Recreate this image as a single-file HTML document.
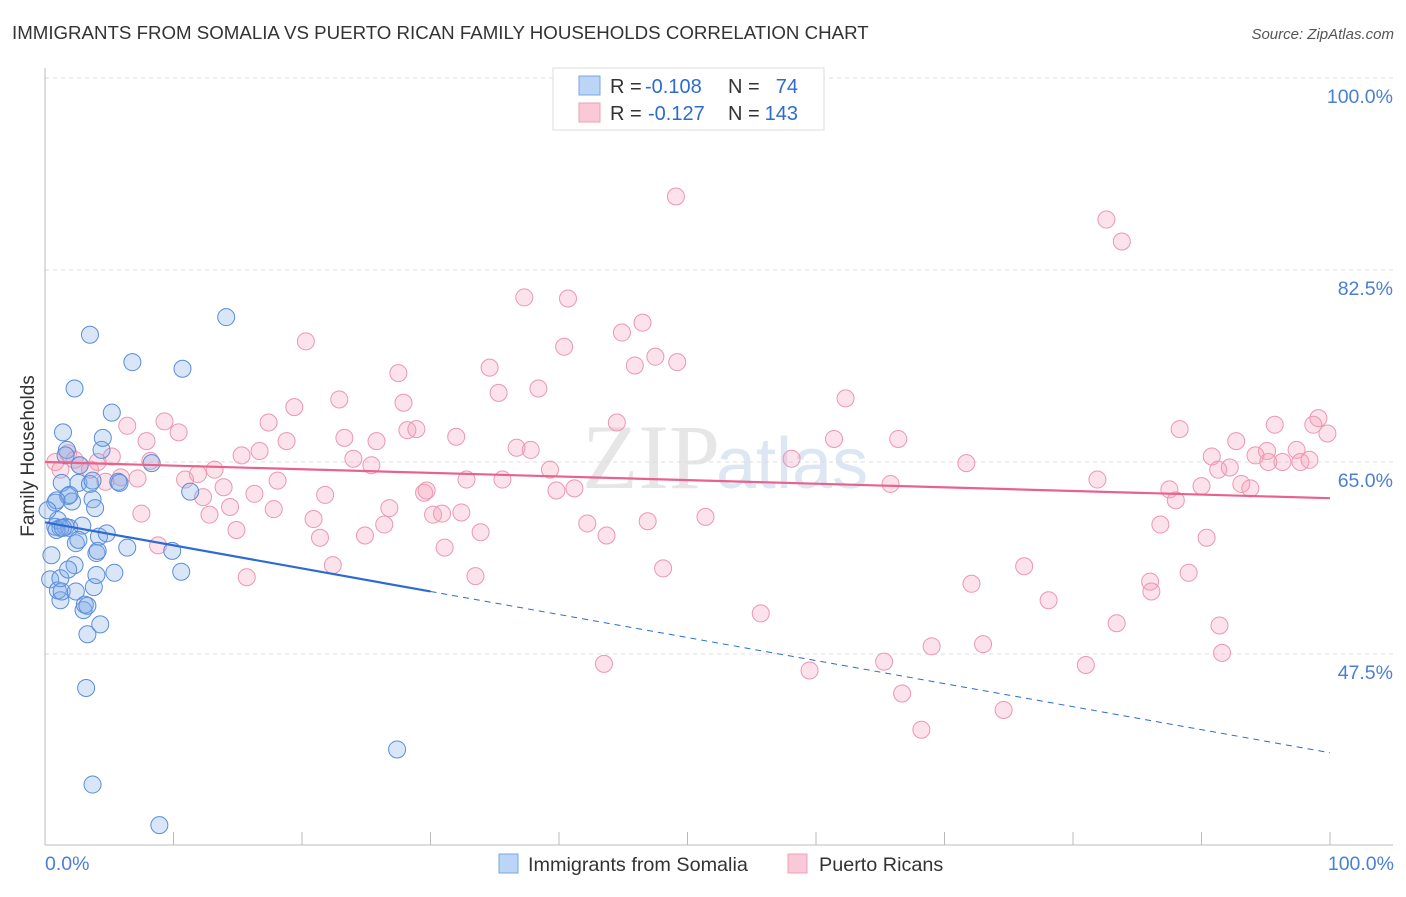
<!DOCTYPE html>
<html><head><meta charset="utf-8"><style>
body{margin:0;background:#fff;font-family:"Liberation Sans",sans-serif;}
</style></head><body>
<svg width="1406" height="892" viewBox="0 0 1406 892" xmlns="http://www.w3.org/2000/svg" font-family="Liberation Sans, sans-serif">
<text x="12" y="39" font-size="18.7" fill="#333">IMMIGRANTS FROM SOMALIA VS PUERTO RICAN FAMILY HOUSEHOLDS CORRELATION CHART</text>
<text x="1394" y="39" font-size="15" fill="#555" font-style="italic" text-anchor="end">Source: ZipAtlas.com</text>
<text x="720" y="488" font-size="92" fill="#e6e6e6" font-family="Liberation Serif, serif" text-anchor="end">ZIP</text>
<text x="716" y="488" font-size="72" fill="#dde6f3">atlas</text>
<g id="grid"></g>
<g id="axes"></g>
<g id="pts"></g>
<g id="trend"></g>
<text x="34" y="456" font-size="19" fill="#333" text-anchor="middle" transform="rotate(-90 34 456)">Family Households</text>
<text x="45" y="870" font-size="19.5" fill="#4a7fd6">0.0%</text>
<text x="1394" y="870" font-size="19.5" fill="#4a7fd6" text-anchor="end">100.0%</text>
<g>
<rect x="553" y="68" width="271" height="62" fill="#fff" stroke="#ddd"/>
<rect x="579" y="76" width="21" height="19" fill="#bcd4f5" stroke="#7aa6e6"/>
<rect x="579" y="103" width="21" height="19" fill="#f9c9d7" stroke="#f0a0b8"/>
<text x="610" y="93" font-size="20" fill="#333">R =</text>
<text x="645" y="93" font-size="20" fill="#2d6bd1">-0.108</text>
<text x="728" y="93" font-size="20" fill="#333">N =</text>
<text x="798" y="93" font-size="20" fill="#2d6bd1" text-anchor="end">74</text>
<text x="610" y="120" font-size="20" fill="#333">R =</text>
<text x="648" y="120" font-size="20" fill="#2d6bd1">-0.127</text>
<text x="728" y="120" font-size="20" fill="#333">N =</text>
<text x="798" y="120" font-size="20" fill="#2d6bd1" text-anchor="end">143</text>
</g>
<g>
<rect x="499" y="854" width="19" height="19" fill="#bcd4f5" stroke="#7aa6e6"/>
<text x="528" y="871" font-size="19.8" fill="#333">Immigrants from Somalia</text>
<rect x="788" y="854" width="19" height="19" fill="#f9c9d7" stroke="#f0a0b8"/>
<text x="819" y="871" font-size="19.8" fill="#333">Puerto Ricans</text>
</g>
</svg>
<script>
const yTicks=[47.5,65.0,82.5,100.0];
const yTickLabels=["47.5%","65.0%","82.5%","100.0%"];
const xTicks=[0,10,20,30,40,50,60,70,80,90,100];
const blueX=[0.4,0.5,0.8,0.8,1.0,1.2,1.0,1.3,1.2,1.3,1.4,1.6,1.7,1.8,1.9,2.1,2.3,2.3,2.4,2.4,2.6,2.7,2.9,3.0,3.1,3.2,3.3,3.5,3.5,3.7,3.7,3.8,3.9,4.0,4.0,4.1,4.2,4.3,4.4,4.5,4.8,5.2,5.4,5.7,6.4,6.8,8.3,8.9,9.9,10.6,10.7,11.3,14.1,27.4,5.8,1.6,1.2,2.6,3.3,1.9,0.9,1.4,1.8,3.7,0.9,0.2];
const blueY=[54.3,56.5,59.1,61.3,59.7,52.4,53.3,53.2,54.4,63.1,67.7,59.1,66.1,61.9,59.0,61.4,55.6,71.7,57.6,53.2,63.1,64.7,59.2,51.5,52.0,44.4,49.3,76.6,63.0,61.6,35.6,53.6,60.8,54.7,56.7,56.9,58.2,50.2,66.1,67.2,58.5,69.5,54.9,63.2,57.2,74.1,64.9,31.9,56.9,55.0,73.5,62.3,78.2,38.8,63.1,65.6,59.0,57.9,51.9,62.0,58.8,59.0,55.2,63.3,61.5,60.6];
const pinkX=[49.1,82.6,83.8,37.3,40.7,46.5,44.9,20.3,40.4,47.5,49.2,45.9,27.5,34.6,38.4,35.3,62.3,22.9,27.9,19.4,9.3,17.4,6.4,10.4,32.0,23.3,25.8,28.2,28.9,44.5,61.4,66.4,88.3,95.7,99.1,99.8,98.7,7.9,18.8,36.7,37.8,15.3,16.7,90.8,92.7,94.2,95.1,97.4,95.2,96.3,97.7,98.4,58.1,8.2,24.0,25.4,71.7,13.2,11.9,18.1,13.9,39.3,32.8,35.6,81.9,87.5,90.0,91.3,92.2,93.1,93.8,65.8,10.9,7.2,4.7,5.9,16.3,21.8,12.3,29.5,29.7,41.2,39.8,14.4,17.8,26.8,88.0,7.5,12.8,20.9,30.2,30.9,32.4,46.9,51.4,42.2,26.4,14.9,33.9,21.4,86.8,90.4,8.8,24.9,31.1,43.7,22.4,48.1,15.7,33.5,76.2,72.1,86.0,86.1,89.0,78.1,55.7,83.4,91.4,69.0,73.0,91.6,43.5,65.3,81.0,59.5,66.7,74.6,68.2,1.8,2.3,0.8,2.7,4.1,5.2,3.5,1.2];
const pinkY=[89.2,87.1,85.1,80.0,79.9,77.7,76.8,76.0,75.5,74.6,74.1,73.8,73.1,73.6,71.7,71.3,70.8,70.7,70.4,70.0,68.7,68.6,68.3,67.7,67.3,67.2,66.9,67.9,68.0,68.6,67.1,67.1,68.0,68.4,69.0,67.6,68.4,66.9,66.9,66.3,66.1,65.6,66.0,65.5,66.9,65.6,66.0,66.1,65.0,65.0,65.0,65.2,65.3,65.1,65.3,64.7,64.9,64.3,63.9,63.3,62.7,64.3,63.4,63.4,63.4,62.5,62.8,64.3,64.5,63.0,62.6,63.0,63.4,63.5,63.2,63.6,62.1,62.0,61.8,62.2,62.4,62.6,62.4,60.9,60.7,60.8,61.5,60.3,60.2,59.8,60.2,60.3,60.4,59.6,60.0,59.4,59.3,58.8,58.6,58.1,59.3,58.1,57.4,58.3,57.2,58.3,55.6,55.3,54.5,54.6,55.5,53.9,54.1,53.2,54.9,52.4,51.2,50.3,50.1,48.2,48.4,47.6,46.6,46.8,46.5,46.0,43.9,42.4,40.6,65.8,65.2,65.0,64.7,65.0,65.5,64.3,64.3];
const blueTrend=[59.5,38.5];
const blueSolidEnd=30;
const pinkTrend=[65.0,61.7];
const NS="http://www.w3.org/2000/svg";
function X(v){return 45+v*12.85;}
function Y(v){return 78+(100-v)*192/17.5;}
function mk(tag,attrs,parent){const e=document.createElementNS(NS,tag);for(const k in attrs)e.setAttribute(k,attrs[k]);parent.appendChild(e);return e;}
const grid=document.getElementById('grid');
yTicks.forEach((t,i)=>{
  const l=mk('line',{x1:45,x2:1393,y1:Y(t),y2:Y(t),stroke:'#ddd','stroke-dasharray':'4,4'},grid);
  
  
  const tx=mk('text',{x:1393,y:Y(t)+25,'font-size':19.5,fill:'#4a7fd6','text-anchor':'end'},grid);
  tx.textContent=yTickLabels[i];
  
  
});
const axes=document.getElementById('axes');
const ya=mk('line',{x1:45,x2:45,y1:68,y2:845,stroke:'#bbb'},axes);


const xa=mk('line',{x1:45,x2:1393,y1:845,y2:845,stroke:'#bbb'},axes);


xTicks.forEach(t=>{
  const l=mk('line',{x1:X(t),x2:X(t),y1:832,y2:845,stroke:'#bbb'},axes);
  
  
});
const pts=document.getElementById('pts');
pinkX.forEach((x,i)=>{
  const c=mk('circle',{cx:X(x),cy:Y(pinkY[i]),r:8.5,fill:'rgba(244,160,185,0.3)',stroke:'#ec97b1','stroke-width':1},pts);
  
  
});
blueX.forEach((x,i)=>{
  const c=mk('circle',{cx:X(x),cy:Y(blueY[i]),r:8.5,fill:'rgba(130,172,232,0.3)',stroke:'#5a8ddb','stroke-width':1},pts);
  
  
});
const tr=document.getElementById('trend');
const by=x=>blueTrend[0]+(blueTrend[1]-blueTrend[0])*x/100;
const b1=mk('line',{x1:X(0),y1:Y(by(0)),x2:X(blueSolidEnd),y2:Y(by(blueSolidEnd)),stroke:'#2d6bd1','stroke-width':2.2},tr);


const b2=mk('line',{x1:X(blueSolidEnd),y1:Y(by(blueSolidEnd)),x2:X(100),y2:Y(by(100)),stroke:'#2d6bd1','stroke-width':1,'stroke-dasharray':'6,5'},tr);


const p1=mk('line',{x1:X(0),y1:Y(pinkTrend[0]),x2:X(100),y2:Y(pinkTrend[1]),stroke:'#e8628c','stroke-width':2.2},tr);


</script>
</body></html>
